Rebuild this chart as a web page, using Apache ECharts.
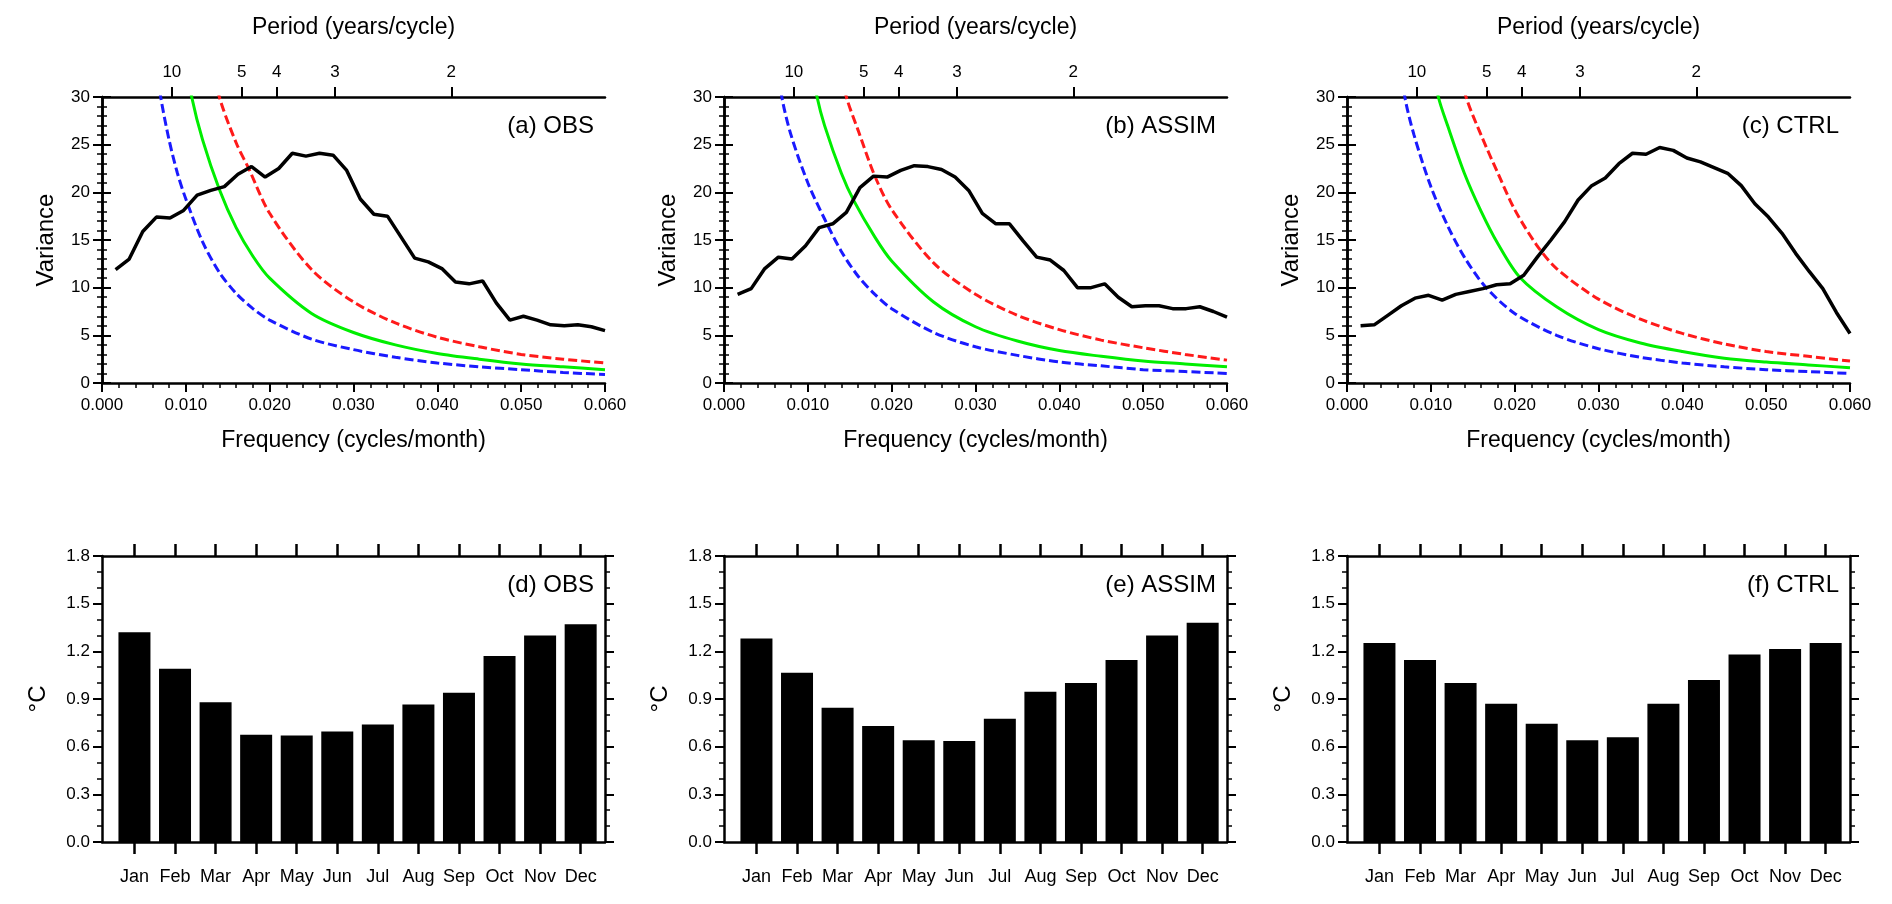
<!DOCTYPE html>
<html><head><meta charset="utf-8">
<script src="https://cdn.jsdelivr.net/npm/echarts@6/dist/echarts.min.js"></script>
<style>html,body{margin:0;background:#fff}#c{width:1892px;height:904px}</style>
</head><body><div id="c"></div>
<script>
// ---- data ----
const specStep = 0.06/37;
const varA = [11.9,13.0,15.9,17.4,17.3,18.1,19.7,20.2,20.6,21.9,22.7,21.6,22.5,24.1,23.8,24.1,23.9,22.3,19.3,17.7,17.5,15.3,13.1,12.7,12.0,10.6,10.4,10.7,8.4,6.6,7.0,6.6,6.1,6.0,6.1,5.9,5.5];
const varB = [9.3,9.9,12.0,13.2,13.0,14.4,16.3,16.7,17.9,20.5,21.7,21.6,22.3,22.8,22.7,22.4,21.6,20.2,17.8,16.7,16.7,14.9,13.2,12.9,11.8,10.0,10.0,10.4,9.0,8.0,8.1,8.1,7.8,7.8,8.0,7.5,6.9];
const varC = [6.0,6.1,7.1,8.1,8.9,9.2,8.7,9.3,9.6,9.9,10.3,10.4,11.3,13.2,15.0,16.9,19.2,20.7,21.5,23.0,24.1,24.0,24.7,24.4,23.6,23.2,22.6,22.0,20.7,18.8,17.4,15.7,13.6,11.7,9.9,7.4,5.2];
// reference curves: [frequency, variance]
const blueA = [[0.006,36],[0.007,30],[0.008,25.5],[0.009,22],[0.010,19.3],[0.012,14.8],[0.014,11.6],[0.016,9.4],[0.018,7.8],[0.020,6.6],[0.025,4.6],[0.030,3.5],[0.035,2.7],[0.040,2.1],[0.045,1.7],[0.050,1.4],[0.055,1.1],[0.060,0.9]];
const greenA = [[0.0095,36],[0.0107,30],[0.012,25.5],[0.014,20.3],[0.016,16.3],[0.018,13.3],[0.020,11.0],[0.025,7.3],[0.030,5.3],[0.035,4.0],[0.040,3.1],[0.045,2.5],[0.050,2.0],[0.055,1.7],[0.060,1.4]];
const redA = [[0.0125,36],[0.014,30],[0.016,25.2],[0.0175,22.5],[0.020,17.8],[0.025,11.9],[0.030,8.5],[0.035,6.3],[0.040,4.8],[0.045,3.8],[0.050,3.0],[0.055,2.5],[0.060,2.1]];
const blueB = [[0.006,36],[0.0069,30],[0.008,26],[0.010,21],[0.012,17.2],[0.014,13.8],[0.016,11.2],[0.018,9.3],[0.020,7.8],[0.025,5.3],[0.030,3.8],[0.035,2.9],[0.040,2.2],[0.045,1.8],[0.050,1.4],[0.055,1.2],[0.060,1.0]];
const greenB = [[0.0098,36],[0.0111,30],[0.012,27],[0.014,22],[0.0155,19.1],[0.018,15.3],[0.020,12.8],[0.025,8.5],[0.030,5.9],[0.035,4.4],[0.040,3.4],[0.045,2.8],[0.050,2.3],[0.055,2.0],[0.060,1.7]];
const redB = [[0.013,36],[0.0146,30],[0.016,26.5],[0.018,21.7],[0.020,18.2],[0.025,12.6],[0.030,9.3],[0.035,7.1],[0.040,5.6],[0.045,4.5],[0.050,3.7],[0.055,3.0],[0.060,2.4]];
const blueC = [[0.006,36],[0.0069,30],[0.008,26],[0.010,20.6],[0.012,16.5],[0.014,13.2],[0.0165,10.1],[0.020,7.3],[0.025,5.0],[0.030,3.6],[0.035,2.7],[0.040,2.1],[0.045,1.7],[0.050,1.4],[0.055,1.2],[0.060,1.0]];
const greenC = [[0.0096,36],[0.0109,30],[0.012,27],[0.014,22],[0.016,18],[0.018,14.6],[0.0206,11.1],[0.025,8.0],[0.030,5.6],[0.035,4.2],[0.040,3.3],[0.045,2.6],[0.050,2.2],[0.055,1.9],[0.060,1.6]];
const redC = [[0.0125,36],[0.0142,30],[0.016,26],[0.018,22],[0.020,18.2],[0.0226,14.5],[0.025,12.0],[0.030,8.8],[0.035,6.7],[0.040,5.2],[0.045,4.1],[0.050,3.3],[0.055,2.8],[0.060,2.3]];
const periods = [10,5,4,3,2];
const months = ['Jan','Feb','Mar','Apr','May','Jun','Jul','Aug','Sep','Oct','Nov','Dec'];
const stdD = [1.32,1.09,0.88,0.675,0.67,0.695,0.74,0.865,0.94,1.17,1.30,1.37];
const stdE = [1.28,1.065,0.845,0.73,0.64,0.635,0.775,0.945,1.0,1.145,1.30,1.38];
const stdF = [1.253,1.145,1.0,0.87,0.744,0.64,0.66,0.87,1.02,1.18,1.215,1.253];
const specLabels = ['(a) OBS','(b) ASSIM','(c) CTRL'];
const barLabels = ['(d) OBS','(e) ASSIM','(f) CTRL'];

// ---- layout ----
const F = 'Liberation Sans, Arial, sans-serif';
const lefts = [102,724,1347], W = 503;
const topS = 97, H = 286, topB = 556;
const ax = {lineStyle:{color:'#000',width:2.5}};
const grids=[], xAxes=[], yAxes=[], series=[], titles=[];
const specs=[[varA,blueA,greenA,redA],[varB,blueB,greenB,redB],[varC,blueC,greenC,redC]];
const bars=[stdD,stdE,stdF];
const periodFreq = periods.map(p=>1/(12*p));
function addY(gi, min, max, interval, split, name, fmt, gap){
  yAxes.push({gridIndex:gi,type:'value',min,max,interval,position:'left',
    axisLine:{show:true,...ax},axisTick:{show:true,length:9,lineStyle:{width:2}},
    minorTick:{show:true,splitNumber:split,length:5,lineStyle:{color:'#000',width:1.5}},
    splitLine:{show:false},
    axisLabel:{color:'#000',fontFamily:F,fontSize:17,margin:12,formatter:fmt},
    name,nameLocation:'middle',nameGap:gap,nameTextStyle:{color:'#000',fontFamily:F,fontSize:24}});
  yAxes.push({gridIndex:gi,type:'value',min,max,interval,position:'right',
    axisLine:{show:true,...ax},axisTick:{show:true,length:9,lineStyle:{width:2}},
    minorTick:{show:true,splitNumber:split,length:5,lineStyle:{color:'#000',width:1.5}},
    splitLine:{show:false},axisLabel:{show:false}});
}
for(let i=0;i<3;i++){
  let gi = grids.length;
  grids.push({left:lefts[i],top:topS,width:W,height:H});
  xAxes.push({gridIndex:gi,type:'value',min:0,max:0.06,interval:0.01,position:'bottom',
    axisLine:{show:true,onZero:false,...ax},axisTick:{show:true,length:9,lineStyle:{width:2}},
    minorTick:{show:true,splitNumber:5,length:5,lineStyle:{color:'#000',width:1.5}},splitLine:{show:false},
    axisLabel:{color:'#000',fontFamily:F,fontSize:17,margin:14,formatter:v=>v.toFixed(3)},
    name:'Frequency (cycles/month)',nameLocation:'middle',nameGap:46,nameTextStyle:{color:'#000',fontFamily:F,fontSize:23}});
  xAxes.push({gridIndex:gi,type:'value',min:0,max:0.06,position:'top',
    axisLine:{show:true,onZero:false,...ax},
    axisTick:{show:true,length:10,lineStyle:{width:2},customValues:periodFreq},
    axisLabel:{color:'#000',fontFamily:F,fontSize:17,margin:16,customValues:periodFreq,formatter:v=>String(Math.round(1/(12*v)))},
    splitLine:{show:false},
    name:'Period (years/cycle)',nameLocation:'middle',nameGap:58,nameTextStyle:{color:'#000',fontFamily:F,fontSize:23}});
  let yi = yAxes.length;
  addY(gi,0,30,5,5,'Variance',undefined,44);
  const [v,b,g,r]=specs[i];
  const base={type:'line',xAxisIndex:2*gi,yAxisIndex:yi,symbol:'none',clip:true,silent:true};
  series.push({...base,data:b,smooth:0.3,lineStyle:{color:'#1a1aff',width:3,type:[9,4]}});
  series.push({...base,data:g,smooth:0.3,lineStyle:{color:'#00ee00',width:3}});
  series.push({...base,data:r,smooth:0.3,lineStyle:{color:'#ff1a1a',width:3,type:[9,4]}});
  series.push({...base,data:v.map((y,k)=>[(k+1)*specStep,y]),lineStyle:{color:'#000',width:3.5}});
  titles.push({text:specLabels[i],left:lefts[i]+W-16,top:topS+12,textAlign:'right',
    textStyle:{fontFamily:F,fontSize:24,fontWeight:'normal',color:'#000'}});
  gi = grids.length;
  grids.push({left:lefts[i],top:topB,width:W,height:H});
  const mv = months.map((m,k)=>k+1);
  xAxes.push({gridIndex:gi,type:'value',min:0.2,max:12.6,position:'bottom',
    axisLine:{show:true,onZero:false,...ax},axisTick:{show:true,length:12,lineStyle:{width:2.5},customValues:mv},
    axisLabel:{color:'#000',fontFamily:F,fontSize:18,margin:26,customValues:mv,formatter:v=>months[Math.round(v)-1]},
    splitLine:{show:false}});
  xAxes.push({gridIndex:gi,type:'value',min:0.2,max:12.6,position:'top',
    axisLine:{show:true,onZero:false,...ax},axisTick:{show:true,length:12,lineStyle:{width:2.5},customValues:mv},
    axisLabel:{show:false},splitLine:{show:false}});
  yi = yAxes.length;
  addY(gi,0,1.8,0.3,3,'°C',v=>v.toFixed(1),52);
  series.push({type:'bar',xAxisIndex:2*gi,yAxisIndex:yi,barWidth:32,silent:true,
    itemStyle:{color:'#000'},data:bars[i].map((y,k)=>[k+1,y])});
  titles.push({text:barLabels[i],left:lefts[i]+W-16,top:topB+12,textAlign:'right',
    textStyle:{fontFamily:F,fontSize:24,fontWeight:'normal',color:'#000'}});
}
const chart = echarts.init(document.getElementById('c'),null,{renderer:'canvas'});
chart.setOption({animation:false,backgroundColor:'#fff',title:titles,grid:grids,xAxis:xAxes,yAxis:yAxes,series});
</script></body></html>
